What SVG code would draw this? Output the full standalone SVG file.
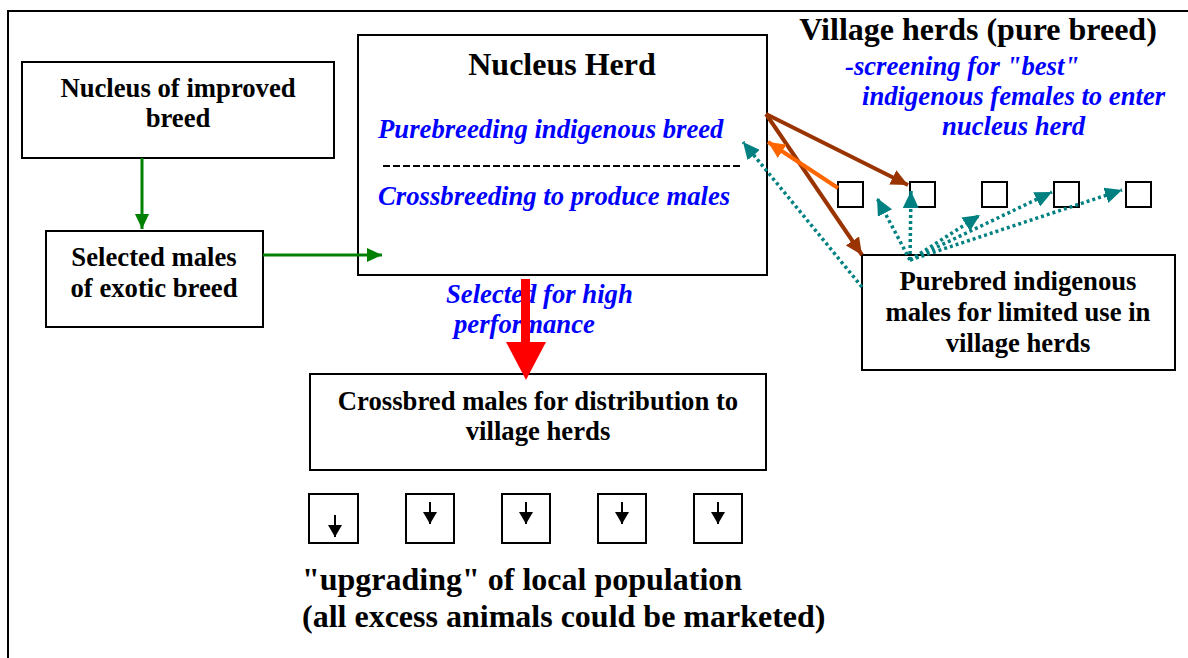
<svg xmlns="http://www.w3.org/2000/svg" width="1188" height="658" viewBox="0 0 1188 658">
<style>
.box{fill:#fff;stroke:#000;stroke-width:2}
.sbox{fill:#fff;stroke:#000;stroke-width:2}
.t{font-family:"Liberation Serif","Times New Roman",serif;font-weight:bold;fill:#000;text-anchor:middle;font-size:26.7px}
.big{font-size:32px}
.st{text-anchor:start}
.bl{font-family:"Liberation Serif","Times New Roman",serif;font-weight:bold;font-style:italic;fill:#0000FF;font-size:26.7px}
.green{stroke:#008000;stroke-width:3;fill:none}
.brown{stroke:#993300;stroke-width:4;fill:none}
.orange{stroke:#FF6600;stroke-width:4;fill:none}
.teal{stroke:#008080;stroke-width:3.5;fill:none;stroke-dasharray:3 3}
.blk{stroke:#000;stroke-width:2;fill:none}
</style>
<defs>
<marker id="ag" markerUnits="userSpaceOnUse" markerWidth="16" markerHeight="14" refX="15" refY="7" orient="auto"><path d="M0,0 L15,7 L0,14 z" fill="#008000"/></marker>
<marker id="ab" markerUnits="userSpaceOnUse" markerWidth="18" markerHeight="16" refX="17" refY="8" orient="auto"><path d="M0,0 L17,8 L0,16 z" fill="#993300"/></marker>
<marker id="ao" markerUnits="userSpaceOnUse" markerWidth="18" markerHeight="16" refX="17" refY="8" orient="auto"><path d="M0,0 L17,8 L0,16 z" fill="#FF6600"/></marker>
<marker id="at" markerUnits="userSpaceOnUse" markerWidth="18" markerHeight="16" refX="17" refY="8" orient="auto"><path d="M0,0 L17,8 L0,16 z" fill="#008080"/></marker>
<marker id="ak" markerUnits="userSpaceOnUse" markerWidth="14" markerHeight="14" refX="12" refY="7" orient="auto"><path d="M0,0 L12,7 L0,14 z" fill="#000"/></marker>
</defs>
<rect width="1188" height="658" fill="#fff"/>
<g id="frame"><path d="M8,658 L8,11 L1188,11" fill="none" stroke="#000" stroke-width="2"/></g>

<g id="nucleus-improved"><rect class="box" x="22" y="62" width="312" height="96"/>
<text class="t" x="178" y="97">Nucleus of improved</text>
<text class="t" x="178" y="127">breed</text></g>

<g id="selected-males"><rect class="box" x="46" y="231" width="217" height="96"/>
<text class="t" x="154" y="266">Selected males</text>
<text class="t" x="154" y="297">of exotic breed</text></g>

<g id="nucleus-herd"><rect class="box" x="358" y="35" width="409" height="240"/>
<text class="t big" x="562" y="75">Nucleus Herd</text>
<text class="bl" x="378" y="138">Purebreeding indigenous breed</text>
<line x1="383" y1="166" x2="742" y2="166" stroke="#000" stroke-width="2" stroke-dasharray="7 3"/>
<text class="bl" x="378" y="205">Crossbreeding to produce males</text></g>

<g id="village-title">
<text class="t big" x="978" y="40">Village herds (pure breed)</text>
<text class="bl" x="845" y="75">-screening for "best"</text>
<text class="bl" x="862" y="105">indigenous females to enter</text>
<text class="bl" x="942" y="135">nucleus herd</text></g>

<g id="village-boxes">
<rect class="sbox" x="838" y="182" width="25" height="25"/>
<rect class="sbox" x="910" y="182" width="25" height="25"/>
<rect class="sbox" x="982" y="182" width="25" height="25"/>
<rect class="sbox" x="1054" y="182" width="25" height="25"/>
<rect class="sbox" x="1126" y="182" width="25" height="25"/></g>

<g id="purebred-males"><rect class="box" x="862" y="255" width="313" height="115"/>
<text class="t" x="1018" y="290">Purebred indigenous</text>
<text class="t" x="1018" y="321">males for limited use in</text>
<text class="t" x="1018" y="352">village herds</text></g>

<g id="crossbred-males"><rect class="box" x="310" y="374" width="456" height="96"/>
<text class="t" x="538" y="410">Crossbred males for distribution to</text>
<text class="t" x="538" y="440">village herds</text></g>

<g id="local-herds">
<rect class="sbox" x="309" y="494" width="49" height="49"/>
<rect class="sbox" x="406" y="494" width="48" height="49"/>
<rect class="sbox" x="502" y="494" width="48" height="49"/>
<rect class="sbox" x="598" y="494" width="48" height="49"/>
<rect class="sbox" x="694" y="494" width="48" height="49"/>
<line class="blk" x1="335" y1="515" x2="335" y2="537" marker-end="url(#ak)"/>
<line class="blk" x1="430" y1="502" x2="430" y2="524" marker-end="url(#ak)"/>
<line class="blk" x1="526" y1="502" x2="526" y2="524" marker-end="url(#ak)"/>
<line class="blk" x1="622" y1="502" x2="622" y2="524" marker-end="url(#ak)"/>
<line class="blk" x1="718" y1="502" x2="718" y2="524" marker-end="url(#ak)"/></g>

<g id="upgrading-label">
<text class="t big st" x="302" y="590">"upgrading" of local population</text>
<text class="t big st" x="302" y="627">(all excess animals could be marketed)</text></g>

<g id="connectors">
<line class="green" x1="142" y1="158" x2="142" y2="229" marker-end="url(#ag)"/>
<line class="green" x1="263" y1="255" x2="382" y2="255" marker-end="url(#ag)"/>
<line class="brown" x1="766" y1="114" x2="908" y2="185" marker-end="url(#ab)"/>
<line class="brown" x1="766" y1="114" x2="862" y2="255" marker-end="url(#ab)"/>
<line class="orange" x1="838" y1="188" x2="768" y2="142" marker-end="url(#ao)"/>
<line class="teal" x1="862" y1="287" x2="743" y2="142" marker-end="url(#at)"/>
<line class="teal" x1="910" y1="260" x2="877" y2="198" marker-end="url(#at)"/>
<line class="teal" x1="910" y1="260" x2="911" y2="191" marker-end="url(#at)"/>
<line class="teal" x1="910" y1="260" x2="980" y2="215" marker-end="url(#at)"/>
<line class="teal" x1="910" y1="260" x2="1052" y2="192" marker-end="url(#at)"/>
<line class="teal" x1="910" y1="260" x2="1122" y2="190" marker-end="url(#at)"/>
<text class="bl" x="446" y="303">Selected for high</text>
<text class="bl" x="454" y="333">performance</text>
<rect x="521" y="279" width="9" height="64" fill="#FF0000"/>
<polygon points="506,342 546,342 526,380" fill="#FF0000"/>
</g>
</svg>
